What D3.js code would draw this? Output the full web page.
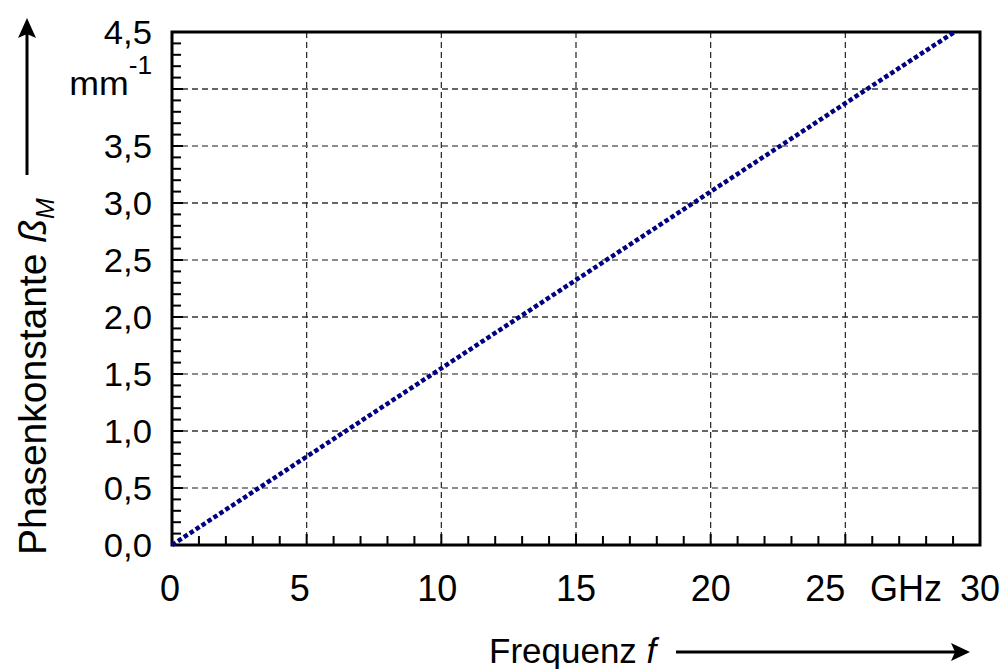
<!DOCTYPE html>
<html>
<head>
<meta charset="utf-8">
<script src="https://cdn.jsdelivr.net/npm/d3@7"></script>
<style>
  html, body { margin: 0; padding: 0; background: #fff; }
  svg { display: block; font-family: "Liberation Sans", Arial, sans-serif; }
</style>
</head>
<body>
<svg id="chart" width="1007" height="669"></svg>
<script>
// ---- data ----
const frequencyGHz = [0, 5, 10, 15, 20, 25, 29.05];
const phaseConstant = [0, 0.775, 1.55, 2.325, 3.1, 3.875, 4.5];
const xMajorTicks = [0, 5, 10, 15, 20, 25, 30];
const xTickLabels = ["0", "5", "10", "15", "20", "25", "30"];
const yMajorTicks = [0, 0.5, 1.0, 1.5, 2.0, 2.5, 3.0, 3.5, 4.0, 4.5];
const yTickLabels = ["0,0", "0,5", "1,0", "1,5", "2,0", "2,5", "3,0", "3,5", "", "4,5"];
const xUnit = "GHz";
const yUnit = "mm";
const yUnitExp = "-1";
const xTitle = "Frequenz ";
const xTitleSym = "f";
const yTitle = "Phasenkonstante ";
const yTitleSym = "ß";
const yTitleSub = "M";

// ---- layout ----
const L = 172, R = 980, T = 32, B = 545;
const svg = d3.select("#chart");
const x = d3.scaleLinear().domain([0, 30]).range([L, R]);
const y = d3.scaleLinear().domain([0, 4.5]).range([B, T]);

// grid
const g = svg.append("g");
g.selectAll("line.vg").data(xMajorTicks.filter(d => d > 0 && d < 30)).join("line")
  .attr("x1", d => x(d)).attr("x2", d => x(d)).attr("y1", T).attr("y2", B)
  .attr("stroke", "#222").attr("stroke-width", 1.2).attr("stroke-dasharray", "6,4");
g.selectAll("line.hg").data(yMajorTicks.filter(d => d > 0 && d < 4.5)).join("line")
  .attr("x1", L).attr("x2", R).attr("y1", d => y(d)).attr("y2", d => y(d))
  .attr("stroke", (d, i) => i % 2 ? "#333" : "#666").attr("stroke-width", 1.3).attr("stroke-dasharray", "6,4");

// minor ticks (inward)
const xMinor = d3.range(1, 30);
svg.append("g").selectAll("line").data(xMinor).join("line")
  .attr("x1", d => x(d)).attr("x2", d => x(d)).attr("y1", B).attr("y2", d => d % 5 === 0 ? B - 11 : B - 9)
  .attr("stroke", "#000").attr("stroke-width", 2);
const yMinor = d3.range(1, 45).map(d => d / 10);
svg.append("g").selectAll("line").data(yMinor).join("line")
  .attr("x1", L).attr("x2", (d, i) => (i + 1) % 5 === 0 ? L + 11 : L + 9)
  .attr("y1", d => y(d)).attr("y2", d => y(d))
  .attr("stroke", "#000").attr("stroke-width", 2);

// frame
svg.append("rect").attr("x", L).attr("y", T).attr("width", R - L).attr("height", B - T)
  .attr("fill", "none").attr("stroke", "#000").attr("stroke-width", 3);

// data line
const line = d3.line().x((d, i) => x(frequencyGHz[i])).y(d => y(d));
svg.append("path").datum(phaseConstant).attr("d", line)
  .attr("fill", "none").attr("stroke", "#000080").attr("stroke-width", 4.5)
  .attr("stroke-dasharray", "4.5,2.6");

// y tick labels
svg.append("g").selectAll("text").data(yMajorTicks).join("text")
  .attr("transform", d => `translate(152,${y(d)}) scale(1.05,1)`)
  .attr("text-anchor", "end").attr("dy", "0.36em")
  .attr("font-size", 33).text((d, i) => yTickLabels[i]);
// unit mm^-1
const u = svg.append("text").attr("transform", `translate(152,${y(4.0) + 6}) scale(1.05,1)`)
  .attr("text-anchor", "end").attr("font-size", 34);
u.append("tspan").text(yUnit);
u.append("tspan").attr("dy", -21).attr("font-size", 25).text(yUnitExp);

// x tick labels
const xLabelShift = { 25: -20, 5: -7, 0: -2, 10: -4 };
svg.append("g").selectAll("text").data(xMajorTicks).join("text")
  .attr("x", d => x(d) + (xLabelShift[d] || 0)).attr("y", 601)
  .attr("text-anchor", "middle").attr("font-size", 36)
  .text((d, i) => xTickLabels[i]);
svg.append("text").attr("x", 906).attr("y", 601).attr("text-anchor", "middle")
  .attr("font-size", 36).text(xUnit);

// x title + arrow
const xt = svg.append("text").attr("x", 489).attr("y", 663).attr("font-size", 35);
xt.append("tspan").text(xTitle);
xt.append("tspan").attr("font-style", "italic").text(xTitleSym);
svg.append("line").attr("x1", 676).attr("x2", 955).attr("y1", 652).attr("y2", 652)
  .attr("stroke", "#000").attr("stroke-width", 3);
svg.append("path").attr("d", "M970,652 L951,643 L955,652 L951,661 Z").attr("fill", "#000");

// y title + arrow
const yt = svg.append("text").attr("transform", "translate(46,555) rotate(-90)")
  .attr("font-size", 39);
yt.append("tspan").text(yTitle);
yt.append("tspan").attr("font-style", "italic").text(yTitleSym);
yt.append("tspan").attr("font-style", "italic").attr("font-size", 25).attr("dy", 8).text(yTitleSub);
svg.append("line").attr("x1", 27).attr("x2", 27).attr("y1", 175).attr("y2", 34)
  .attr("stroke", "#000").attr("stroke-width", 3);
svg.append("path").attr("d", "M27,18 L18,38 L27,34 L36,38 Z").attr("fill", "#000");
</script>
</body>
</html>
